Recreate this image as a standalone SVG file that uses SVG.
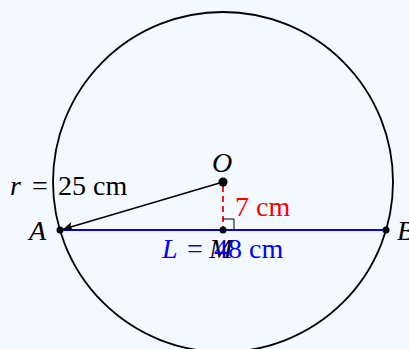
<svg xmlns="http://www.w3.org/2000/svg" width="409" height="349" viewBox="0 0 409 349">
<defs>
<style>
.t{font-family:"Liberation Serif","Times New Roman",serif;font-size:28px}
.i{font-style:italic}
.k{fill:#000}
.b{fill:#0000ff}
.r{fill:#ff0000}
</style>
<marker id="arr" markerUnits="userSpaceOnUse" markerWidth="14" markerHeight="12" viewBox="-11 -6 14 12" refX="0" refY="0" orient="auto">
<path d="M0,0 L-10,-4.5 Q-6.5,0 -10,4.5 Z" fill="#000"/>
</marker>
</defs>
<rect width="409" height="349" fill="#f4f8ff"/>
<g id="circle"><circle cx="223" cy="182" r="170" fill="none" stroke="#000" stroke-width="1.8"/></g>
<g id="connectors">
<line x1="60" y1="230" x2="386" y2="230" stroke="#0000ff" stroke-width="2"/>
<line x1="223" y1="182" x2="63" y2="229.2" stroke="#000" stroke-width="1.6" marker-end="url(#arr)"/>
<line x1="223" y1="186" x2="223" y2="227" stroke="#ff0000" stroke-width="1.8" stroke-dasharray="6,4"/>
<polyline points="223,219 234,219 234,230" fill="none" stroke="#000" stroke-width="1"/>
</g>
<g id="O"><circle cx="223" cy="182" r="4.5" fill="#000"/><text class="t i k" x="222" y="172" text-anchor="middle">O</text></g>
<g id="A"><circle cx="60" cy="230" r="3.5" fill="#000"/><text class="t i k" x="29" y="240">A</text></g>
<g id="B"><circle cx="386" cy="230" r="3.5" fill="#000"/><text class="t i k" x="397" y="240">B</text></g>
<g id="M"><circle cx="223" cy="230" r="3.5" fill="#000"/><text class="t i k" x="221" y="258" text-anchor="middle">M</text></g>
<g id="label-r"><text class="t k" x="10" y="195"><tspan class="i">r</tspan><tspan x="32">=</tspan><tspan x="58">25 cm</tspan></text></g>
<g id="label-d"><text class="t r" x="235" y="216">7 cm</text></g>
<g id="label-L"><text class="t b" x="162" y="258"><tspan class="i">L</tspan><tspan x="187">=</tspan><tspan x="214">48 cm</tspan></text></g>
</svg>
